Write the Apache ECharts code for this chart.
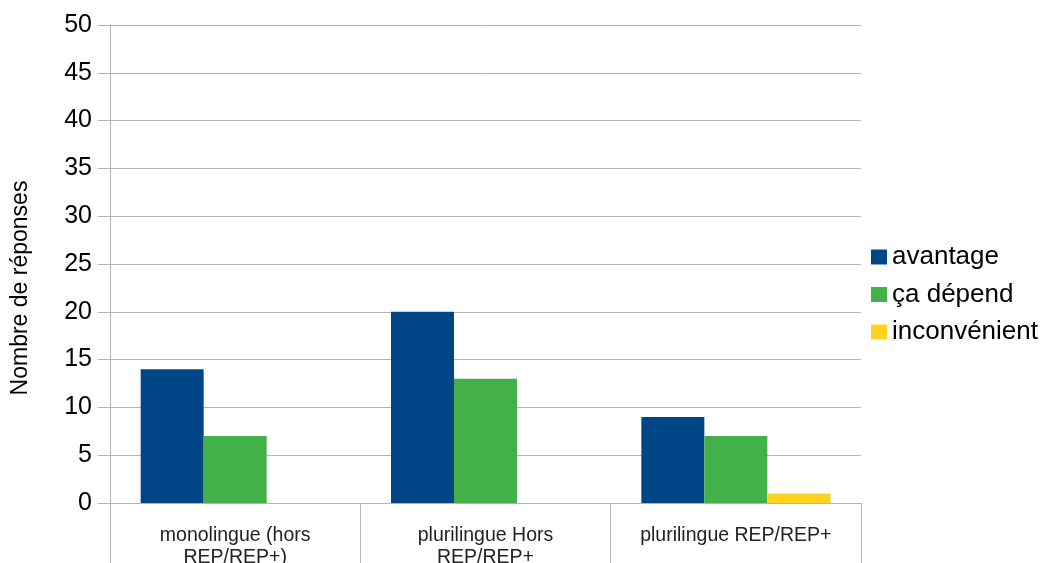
<!DOCTYPE html>
<html>
<head>
<meta charset="utf-8">
<script src="https://cdn.jsdelivr.net/npm/echarts@6/dist/echarts.min.js"></script>
<style>
  html, body { margin: 0; padding: 0; background: #fff; }
  #chart { width: 1046px; height: 563px; }
</style>
</head>
<body>
<div id="chart"></div>
<script>
// Données
const categories = ['monolingue (hors\nREP/REP+)', 'plurilingue Hors\nREP/REP+', 'plurilingue REP/REP+'];
const avantage = [14, 20, 9];
const caDepend = [7, 13, 7];
const inconvenient = [0, 0, 1];
const yTicks = [0, 5, 10, 15, 20, 25, 30, 35, 40, 45, 50];

const chart = echarts.init(document.getElementById('chart'));
const font = 'Liberation Sans';
const gridColor = '#b3b3b3';

const option = {
    backgroundColor: '#ffffff',
    animation: false,
    textStyle: { fontFamily: font },
    grid: { left: 110, right: 185, top: 25, bottom: 60, outerBoundsMode: 'none', containLabel: false },
    legend: {
        orient: 'vertical',
        left: 871,
        top: 244,
        padding: 0,
        icon: 'rect',
        itemWidth: 16,
        itemHeight: 15,
        itemGap: 11.5,
        textStyle: { fontSize: 26, color: '#000', fontFamily: font, lineHeight: 26 },
        data: ['avantage', 'ça dépend', 'inconvénient']
    },
    xAxis: {
        type: 'category',
        data: categories,
        axisLine: { lineStyle: { color: gridColor } },
        axisTick: { show: true, length: 60, lineStyle: { color: gridColor } },
        axisLabel: { color: '#222', fontSize: 19.5, margin: 22, lineHeight: 22, fontFamily: font, interval: 0 }
    },
    yAxis: {
        type: 'value',
        min: yTicks[0],
        max: yTicks[yTicks.length - 1],
        interval: 5,
        name: 'Nombre de réponses',
        nameLocation: 'middle',
        nameGap: 78,
        nameTextStyle: { fontSize: 23, color: '#000', fontFamily: font, padding: [0, 48, 0, 0] },
        axisLine: { show: true, lineStyle: { color: gridColor } },
        axisTick: { show: true, length: 12, lineStyle: { color: gridColor } },
        axisLabel: { color: '#000', fontSize: 25, margin: 18, fontFamily: font },
        splitLine: { lineStyle: { color: gridColor } }
    },
    series: [
        { name: 'avantage', type: 'bar', data: avantage, barWidth: 63, barGap: '0%', itemStyle: { color: '#004586' } },
        { name: 'ça dépend', type: 'bar', data: caDepend, barWidth: 63, barGap: '0%', itemStyle: { color: '#43b049' } },
        { name: 'inconvénient', type: 'bar', data: inconvenient, barWidth: 63, barGap: '0%', itemStyle: { color: '#ffd320' } }
    ]
};

chart.setOption(option);
</script>
</body>
</html>
